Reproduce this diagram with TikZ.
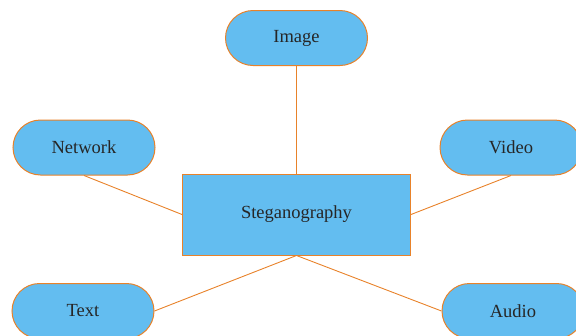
\documentclass[tikz,border=0pt]{standalone}
\usepackage{fontspec}
\setmainfont{Liberation Serif}
\usetikzlibrary{shapes.misc}
\definecolor{fillblue}{HTML}{63BDF0}
\definecolor{edgeorange}{HTML}{E8822A}
\begin{document}
\begin{tikzpicture}[x=1pt,y=1pt,
  pill/.style={rounded rectangle, draw=edgeorange, fill=fillblue, line width=1pt,
    minimum width=142pt, minimum height=55pt, inner sep=0pt, font=\fontsize{18.5}{20}\selectfont, text=black!85},
  core/.style={rectangle, draw=edgeorange, fill=fillblue, line width=1pt,
    minimum width=228pt, minimum height=81pt, inner sep=0pt, font=\fontsize{18.5}{20}\selectfont, text=black!85},
  link/.style={draw=edgeorange, line width=0.9pt}]
\useasboundingbox (0,0) rectangle (576,-335);
\node[core] (steg) at (296.5,-214.5) {Steganography};
\node[pill] (image) at (296.5,-38) {Image};
\node[pill] (network) at (84,-147.5) {Network};
\node[pill] (video) at (511,-147.5) {Video};
\node[pill] (text) at (83,-311) {Text};
\node[pill] (audio) at (513,-311) {Audio};
\draw[link] (image.south) -- (steg.north);
\draw[link] (network.south) -- (steg.west);
\draw[link] (video.south) -- (steg.east);
\draw[link] (text.east) -- (steg.south);
\draw[link] (audio.west) -- (steg.south);
\end{tikzpicture}
\end{document}
